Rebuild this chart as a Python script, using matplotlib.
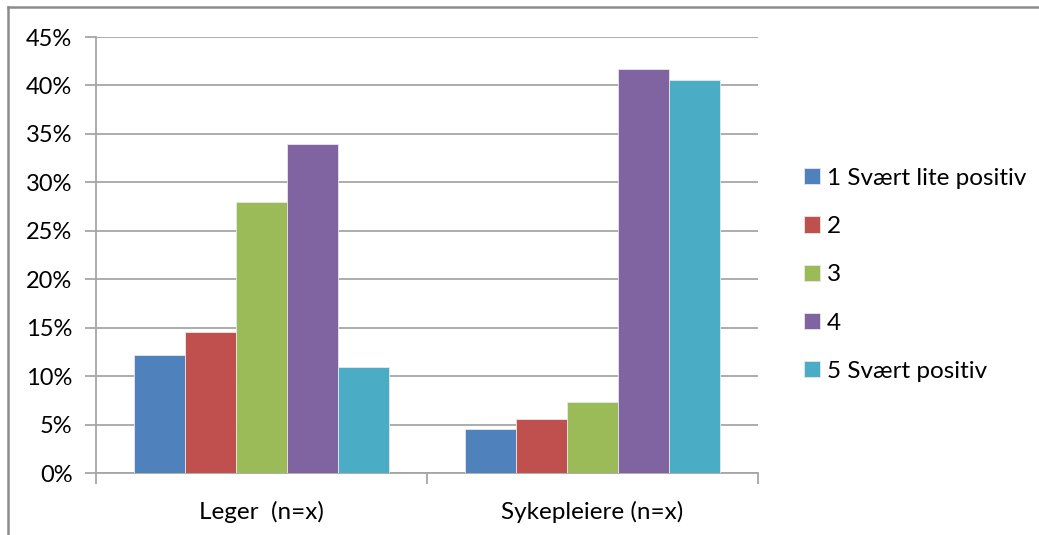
import numpy as np
import matplotlib.pyplot as plt
from matplotlib.lines import Line2D
from matplotlib.ticker import FuncFormatter

plt.rcParams['font.family'] = ['Lato', 'DejaVu Sans']

# survey answers, share of respondents per group
groups = ["Leger  (n=x)", "Sykepleiere (n=x)"]
series = ["1 Svært lite positiv", "2", "3", "4", "5 Svært positiv"]
leger = [12.2, 14.6, 28.0, 34.0, 10.9]
sykepleiere = [4.5, 5.6, 7.3, 41.7, 40.6]
colors = ["#4F81BD", "#C0504D", "#9BBB59", "#8064A2", "#4BACC6"]

values = np.array([leger, sykepleiere]).T  # rows = series, cols = groups

fig = plt.figure(figsize=(10.39, 5.35), dpi=100)
ax = fig.add_axes([96 / 1039, 1 - 473 / 535, (758 - 96) / 1039, (473 - 37) / 535])

n = len(series)
gap = 1.5
width = 1.0 / (n + gap)
x = np.arange(len(groups))
for i in range(n):
    offs = (i - (n - 1) / 2) * width
    ax.bar(x + offs, values[i], width, color=colors[i], edgecolor="#E8E8E8",
           linewidth=0.6, label=series[i], zorder=3)

ax.set_xlim(-0.5, len(groups) - 0.5)
ax.set_ylim(0, 45)
ax.set_yticks(np.arange(0, 46, 5))
ax.yaxis.set_major_formatter(FuncFormatter(lambda v, p: "%d%%" % v))
ax.grid(axis="y", color="#A6A6A6", linewidth=1.3, zorder=0)

ax.set_xticks(x)
ax.set_xticklabels(groups)
# category separators on the x axis
ax.set_xticks([-0.5, 0.5, 1.5], minor=True)
ax.tick_params(axis="x", which="major", length=0, pad=20, labelsize=17.5)
ax.tick_params(axis="x", which="minor", length=8, color="#A6A6A6", width=1.3, direction="out")
ax.tick_params(axis="y", length=8, color="#A6A6A6", width=1.3, labelsize=17, pad=9)

for s in ["top", "right"]:
    ax.spines[s].set_visible(False)
ax.spines["left"].set_color("#A6A6A6")
ax.spines["left"].set_linewidth(1.3)
ax.spines["bottom"].set_color("#A6A6A6")
ax.spines["bottom"].set_linewidth(1.3)

leg = fig.legend(loc="upper left", bbox_to_anchor=(782 / 1039, 1 - 146 / 535),
                 frameon=False, fontsize=17.5, handlelength=0.65, handleheight=0.65,
                 handletextpad=0.3, labelspacing=1.12)

# chart border on top and left
fig.add_artist(Line2D([8 / 1039, 8 / 1039], [0, 1 - 7 / 535], color="#8C8C8C", linewidth=1.8))
fig.add_artist(Line2D([8 / 1039, 1], [1 - 7 / 535, 1 - 7 / 535], color="#8C8C8C", linewidth=1.8))

fig.savefig("out.png", dpi=100)
